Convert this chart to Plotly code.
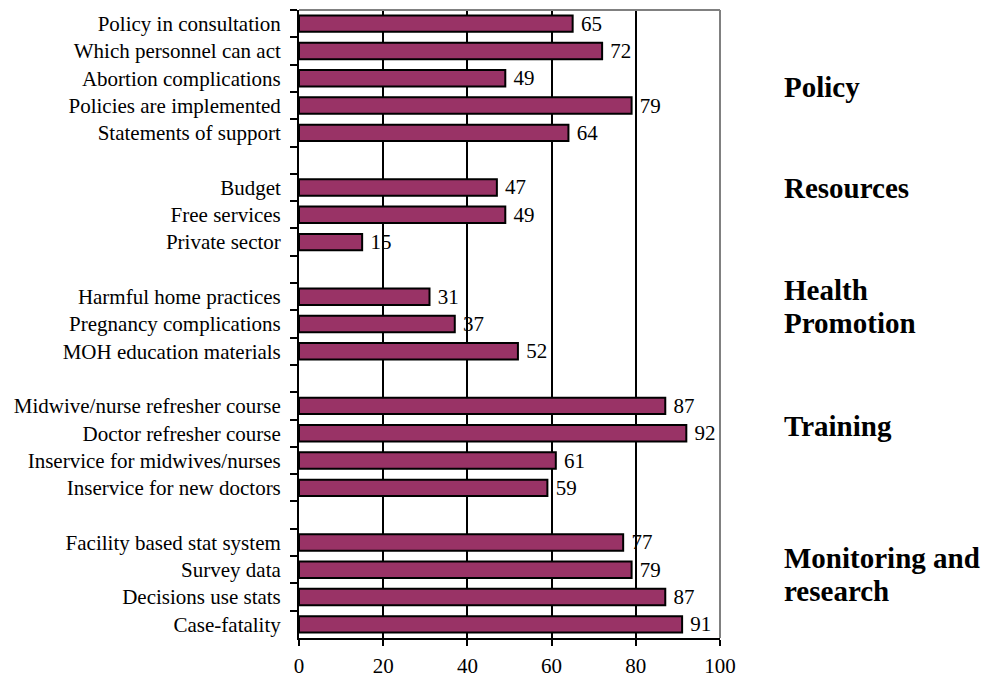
import plotly.graph_objects as go

policy_labels = ["Policy in consultation", "Which personnel can act", "Abortion complications",
                 "Policies are implemented", "Statements of support"]
policy_values = [65, 72, 49, 79, 64]
resources_labels = ["Budget", "Free services", "Private sector"]
resources_values = [47, 49, 15]
health_labels = ["Harmful home practices", "Pregnancy complications", "MOH education materials"]
health_values = [31, 37, 52]
training_labels = ["Midwive/nurse refresher course", "Doctor refresher course",
                   "Inservice for midwives/nurses", "Inservice for new doctors"]
training_values = [87, 92, 61, 59]
monitoring_labels = ["Facility based stat system", "Survey data", "Decisions use stats", "Case-fatality"]
monitoring_values = [77, 79, 87, 91]

group_names = ["Policy", "Resources", "Health", "Promotion", "Training", "Monitoring and", "research"]
x_ticks = [0, 20, 40, 60, 80, 100]

groups = [(policy_labels, policy_values), (resources_labels, resources_values),
          (health_labels, health_values), (training_labels, training_values),
          (monitoring_labels, monitoring_values)]

cat_order = []
bar_y = []
bar_x = []
for i, (labs, vals) in enumerate(groups):
    if i > 0:
        cat_order.append(" " * i)
    cat_order.extend(labs)
    bar_y.extend(labs)
    bar_x.extend(vals)

FONT = "Liberation Serif, Times New Roman, serif"

fig = go.Figure()
fig.add_trace(go.Bar(
    x=bar_x, y=bar_y, orientation="h",
    marker=dict(color="#993366", line=dict(color="black", width=2)),
    text=bar_x, texttemplate=" %{x}", textposition="outside",
    textfont=dict(family=FONT, size=21, color="black"),
    constraintext="none", cliponaxis=False,
))

plot_top, plot_bottom = 10, 638.5
group_y_px = [87, 188, 290, 323, 426, 558, 591]
for name, ypx in zip(group_names, group_y_px):
    fig.add_annotation(
        text="<b>" + name + "</b>", xref="paper", yref="paper",
        x=1.148, y=(plot_bottom - ypx) / (plot_bottom - plot_top),
        xanchor="left", yanchor="middle", showarrow=False,
        font=dict(family=FONT, size=29, color="black"),
    )

# gray top and right border
fig.add_shape(type="line", xref="paper", yref="paper", x0=0, x1=1, y0=1, y1=1,
              line=dict(color="#808080", width=2), layer="above")
fig.add_shape(type="line", xref="paper", yref="paper", x0=1, x1=1, y0=0, y1=1,
              line=dict(color="#808080", width=2), layer="above")

fig.update_layout(
    width=987, height=680,
    margin=dict(l=298.5, r=267, t=10, b=41.5, autoexpand=False),
    paper_bgcolor="white", plot_bgcolor="white",
    showlegend=False, bargap=0.4,
    font=dict(family=FONT, size=21, color="black"),
    xaxis=dict(range=[0, 100], tickvals=x_ticks, ticktext=[str(v) for v in x_ticks],
               showgrid=True, gridcolor="black", gridwidth=2,
               showline=True, linecolor="black", linewidth=2,
               ticks="outside", ticklen=6, tickwidth=2, tickcolor="black",
               zeroline=False, ticklabelstandoff=2, automargin=False,
               tickfont=dict(family=FONT, size=21, color="black")),
    yaxis=dict(type="category", categoryorder="array", categoryarray=cat_order,
               autorange="reversed", tickson="boundaries",
               showgrid=False, zeroline=False, automargin=False,
               showline=True, linecolor="black", linewidth=2,
               ticks="outside", ticklen=7, tickwidth=2, tickcolor="black",
               ticklabelstandoff=12,
               tickfont=dict(family=FONT, size=21, color="black")),
)

fig.write_html("out.html", config={"displayModeBar": False},
               post_script="document.body.style.margin='0';document.body.style.overflow='hidden';")
